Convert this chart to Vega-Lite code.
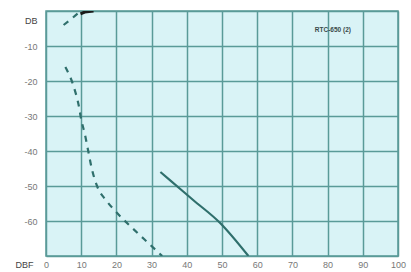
{
  "$schema": "https://vega.github.io/schema/vega-lite/v6.json",
  "autosize": "none",
  "width": 352,
  "height": 245,
  "padding": {"left": 46, "top": 11, "right": 13, "bottom": 16},
  "background": "#ffffff",
  "config": {
    "view": {"fill": "#d9f3f6", "stroke": "#5a9a98", "strokeWidth": 1.5},
    "axis": {"grid": true, "gridColor": "#5a9a98", "gridWidth": 1.5, "gridOpacity": 1, "domain": false, "ticks": false, "labelOverlap": false, "labelFont": "Liberation Sans", "labelFontSize": 9, "labelColor": "#777777"}
  },
  "datasets": {
    "curves": [
      {"series": "a", "x": 5, "y": -4},
      {"series": "a", "x": 7.5, "y": -2},
      {"series": "a", "x": 9.5, "y": -0.3},
      {"series": "b", "x": 9.8, "y": -0.8},
      {"series": "b", "x": 11, "y": -0.3},
      {"series": "b", "x": 13.5, "y": 0},
      {"series": "c", "x": 5.5, "y": -16},
      {"series": "c", "x": 8, "y": -22},
      {"series": "c", "x": 9.3, "y": -27},
      {"series": "c", "x": 10, "y": -31},
      {"series": "c", "x": 11, "y": -35},
      {"series": "c", "x": 12, "y": -40},
      {"series": "c", "x": 13, "y": -45},
      {"series": "c", "x": 14.5, "y": -50},
      {"series": "c", "x": 17, "y": -54},
      {"series": "c", "x": 20, "y": -57.5},
      {"series": "c", "x": 24.5, "y": -62},
      {"series": "c", "x": 28, "y": -65.3},
      {"series": "c", "x": 33, "y": -70},
      {"series": "d", "x": 32.5, "y": -46},
      {"series": "d", "x": 35.2, "y": -48.3},
      {"series": "d", "x": 41.8, "y": -54},
      {"series": "d", "x": 49.4, "y": -60.5},
      {"series": "d", "x": 57.5, "y": -70}
    ],
    "labels": [{"x": 81.5, "y": -5.5, "text": "RTC-650 (2)"}]
  },
  "encoding": {
    "x": {"field": "x", "type": "quantitative", "scale": {"domain": [0, 100], "nice": false},
      "axis": {"values": [0, 10, 20, 30, 40, 50, 60, 70, 80, 90, 100], "labelFlush": false, "labelPadding": 4, "title": "DBF", "titleX": -22, "titleY": 4, "titleAlign": "center", "titleBaseline": "top", "titleFont": "Liberation Sans", "titleFontSize": 9, "titleFontWeight": "normal", "titleColor": "#444444"}},
    "y": {"field": "y", "type": "quantitative", "scale": {"domain": [-70, 0], "nice": false},
      "axis": {"values": [-70, -60, -50, -40, -30, -20, -10, 0], "labelPadding": 9, "title": null,
        "labelExpr": "datum.value == 0 ? 'DB' : datum.value == -70 ? '' : '' + datum.value",
        "labelOffset": {"condition": {"test": "datum.value == 0", "value": 9}, "value": 0},
        "labelColor": {"condition": {"test": "datum.value == 0", "value": "#444444"}, "value": "#777777"}}}
  },
  "layer": [
    {
      "data": {"name": "curves"},
      "transform": [{"filter": "datum.series == 'a' || datum.series == 'c'"}],
      "mark": {"type": "line", "clip": true, "color": "#2f6f6c", "strokeWidth": 2.2, "strokeDash": [6, 6], "interpolate": "monotone"},
      "encoding": {"detail": {"field": "series"}}
    },
    {
      "data": {"name": "curves"},
      "transform": [{"filter": "datum.series == 'b'"}],
      "mark": {"type": "line", "clip": true, "color": "#1a1a1a", "strokeWidth": 3},
      "encoding": {}
    },
    {
      "data": {"name": "curves"},
      "transform": [{"filter": "datum.series == 'd'"}],
      "mark": {"type": "line", "clip": true, "color": "#2f6f6c", "strokeWidth": 2.2, "interpolate": "monotone"},
      "encoding": {}
    },
    {
      "data": {"name": "labels"},
      "mark": {"type": "text", "font": "Liberation Sans", "fontSize": 6.5, "fontWeight": "bold", "color": "#3a4a4a"},
      "encoding": {"text": {"field": "text"}}
    }
  ]
}
